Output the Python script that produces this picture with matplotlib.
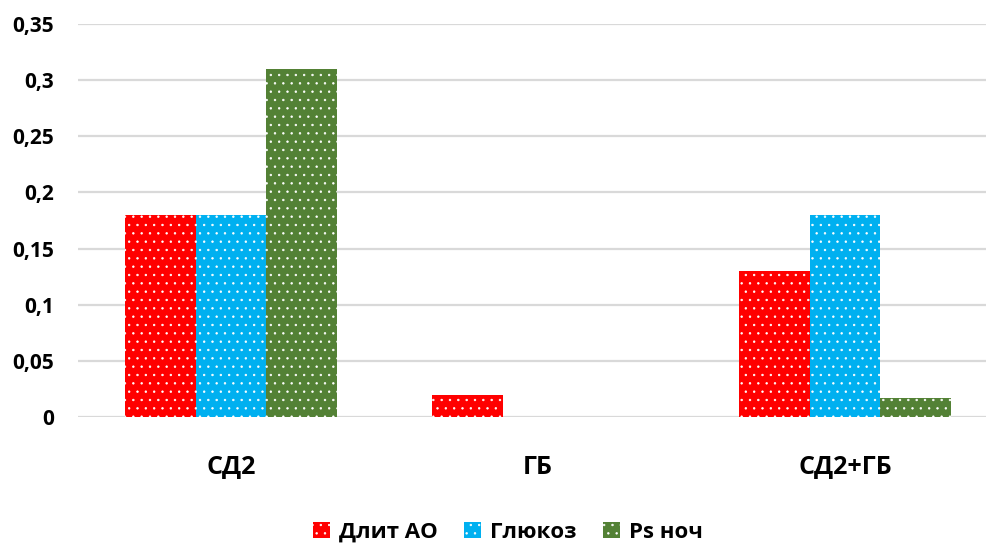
import matplotlib
matplotlib.use("Agg")
import matplotlib.pyplot as plt
import numpy as np
from matplotlib.patches import Patch

plt.rcParams['font.family'] = ['Open Sans', 'DejaVu Sans']
plt.rcParams['hatch.linewidth'] = 0.5

categories = ["СД2", "ГБ", "СД2+ГБ"]
series_names = ["Длит АО", "Глюкоз", "Ps ноч"]
dlit_ao = [0.18, 0.02, 0.13]
glyukoz = [0.18, 0.0, 0.18]
ps_noch = [0.31, 0.0, 0.017]
yticks = [0, 0.05, 0.1, 0.15, 0.2, 0.25, 0.3, 0.35]
ytick_labels = ["0", "0,05", "0,1", "0,15", "0,2", "0,25", "0,3", "0,35"]
colors = ["#FF0000", "#00B0F0", "#538135"]

fig = plt.figure(figsize=(9.86, 5.45), dpi=100)
W, H = 986, 545
left, right = 77.5, 998.5
top, bottom = 24, 417
ax = fig.add_axes([left / W, 1 - bottom / H, (right - left) / W, (bottom - top) / H])

x = np.arange(len(categories))
bw = 0.231
for i, (vals, col) in enumerate(zip([dlit_ao, glyukoz, ps_noch], colors)):
    ax.bar(x + (i - 1) * bw, vals, width=bw, color=col, edgecolor="white",
           linewidth=0, hatch="..", zorder=3)

ax.set_xlim(-0.5, 2.5)
ax.set_ylim(0, 0.35)
ax.set_yticks(yticks)
ax.set_yticklabels(ytick_labels, fontsize=15, fontweight="bold")
ax.set_xticks(x)
ax.set_xticklabels(categories, fontsize=18, fontweight="bold")
ax.tick_params(axis="y", length=0, pad=17)
ax.tick_params(axis="x", length=0, pad=27)
ax.grid(axis="y", color="#D9D9D9", linewidth=1.6, zorder=0)
ax.set_axisbelow(True)
for s in ax.spines.values():
    s.set_visible(False)

handles = [Patch(facecolor=c, edgecolor="white", linewidth=0, hatch="..") for c in colors]
fig.legend(handles, series_names, loc="center", bbox_to_anchor=(508 / W, 1 - 532 / H),
           ncol=3, frameon=False, prop={"size": 16, "weight": "bold"},
           handlelength=0.75, handleheight=0.75, handletextpad=0.4, columnspacing=1.2)

fig.savefig("out.png", dpi=100)
